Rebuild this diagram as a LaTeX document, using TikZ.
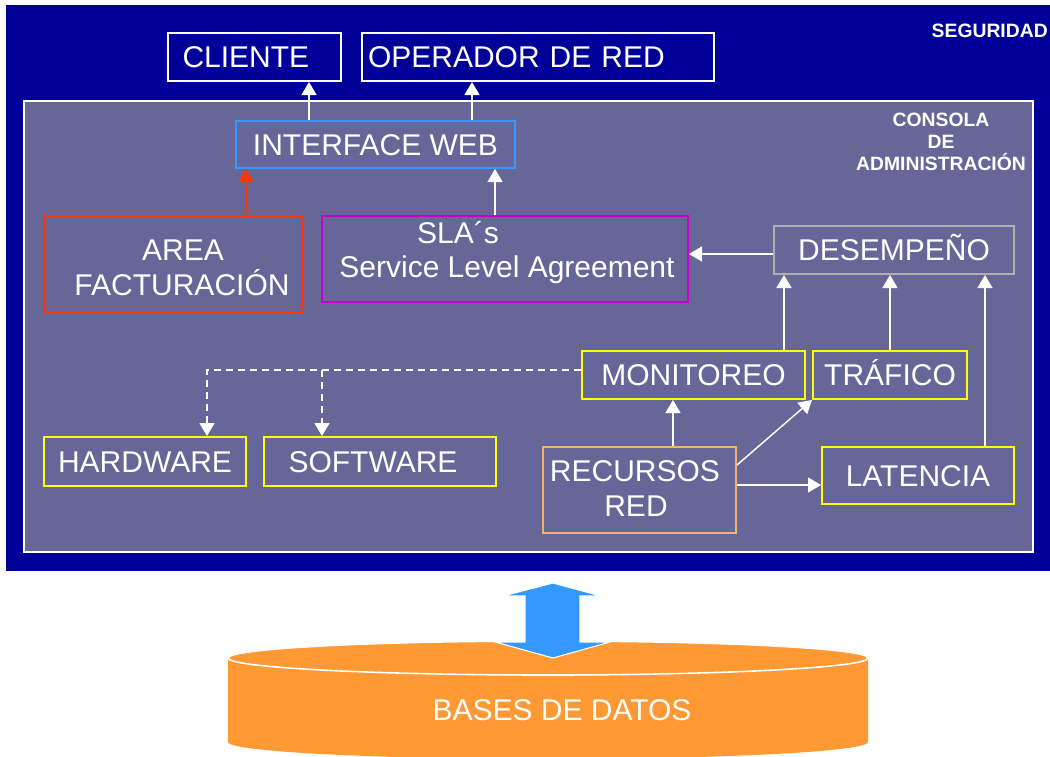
\documentclass[tikz,border=0pt]{standalone}
\usepackage{fontspec}
\setmainfont{Liberation Sans}
\usetikzlibrary{arrows.meta,calc}

\definecolor{segblue}{HTML}{000099}
\definecolor{consola}{HTML}{666699}
\definecolor{webblue}{HTML}{3399FF}
\definecolor{factred}{HTML}{FF3300}
\definecolor{slamag}{HTML}{CC00CC}
\definecolor{desgray}{HTML}{B0B0B0}
\definecolor{boxyellow}{HTML}{FFFF00}
\definecolor{recorange}{HTML}{F2B16E}
\definecolor{dborange}{HTML}{FF9933}

\begin{document}
\begin{tikzpicture}[x=0.75pt,y=-0.75pt,
  wh/.style 2 args={minimum width=#1*0.75pt, minimum height=#2*0.75pt},
  box/.style={rectangle, line width=1.5pt, fill=consola, text=white,
    font=\fontsize{22.5}{26}\selectfont, inner sep=0pt,
    text height=16.1pt, text depth=0pt},
  caption/.style={text=white, font=\fontsize{22.5}{26}\selectfont,
    inner sep=0pt, text height=16.1pt, text depth=0pt},
  title/.style={text=white, font=\fontsize{14.5}{16.5}\selectfont\bfseries,
    inner sep=0pt, align=center},
  link/.style={draw=white, line width=1.1pt,
    -{Triangle[length=9.75pt,width=11.25pt]}},
  dashlink/.style={link, dash pattern=on 5.25pt off 3.75pt}]

\useasboundingbox (0,0) rectangle (1050,757);

% security layer and administration console
\fill[segblue] (6,5) rectangle (1050,571);
\draw[white, line width=1.2pt, fill=consola] (24,101) rectangle (1033,552);

\node[title, anchor=east] (seg) at (1048,31) {SEGURIDAD};
\node[title] (cons) at (941,142) {CONSOLA\\DE\\ADMINISTRACIÓN};

% boxes
\node[box, draw=white, fill=segblue, wh={173}{48}, text width=108pt, align=left] (cli) at (254.5,57) {CLIENTE};
\node[box, draw=white, fill=segblue, wh={352}{48}, text width=255pt, align=left] (op) at (538,57) {OPERADOR DE RED};
\node[box, draw=webblue, wh={279}{47}] (iw) at (375.5,144.5) {INTERFACE WEB};

\node[box, draw=factred, wh={258}{96}] (fact) at (173,264) {};
\node[caption] (fact1) at (183,250) {AREA};
\node[caption] (fact2) at (182,285) {FACTURACIÓN};

\node[box, draw=slamag, wh={366}{86}] (sla) at (505,259) {};
\node[caption] (sla1) at (458,233) {SLA´s};
\node[caption, text depth=4.5pt] (sla2) at (507,269.5) {Service Level Agreement};

\node[box, draw=desgray, wh={240}{48}] (des) at (894,250) {DESEMPEÑO};
\node[box, draw=boxyellow, wh={223}{48}] (mon) at (693.5,375) {MONITOREO};
\node[box, draw=boxyellow, wh={154}{48}] (tra) at (890,375) {TRÁFICO};
\node[box, draw=boxyellow, wh={202}{49}] (hw) at (145,461.5) {HARDWARE};
\node[box, draw=boxyellow, wh={232}{49}] (sw) at (380,461.5) {};
\node[caption] (swt) at (373,461.5) {SOFTWARE};
\node[box, draw=recorange, wh={193}{86}] (rec) at (639.5,490) {};
\node[caption] (rec1) at (635,471) {RECURSOS};
\node[caption] (rec2) at (636,506) {RED};
\node[box, draw=boxyellow, wh={192}{57}] (lat) at (918,475.5) {LATENCIA};

% connector positions
\coordinate (xa) at (309,0);
\coordinate (xb) at (472,0);
\coordinate (xc) at (246,0);
\coordinate (xd) at (495,0);
\coordinate (ye) at (0,254);
\coordinate (xf) at (784,0);
\coordinate (xg) at (985,0);
\coordinate (xh) at (673,0);
\coordinate (yi) at (0,485);
\coordinate (yj) at (0,370);
\coordinate (xk) at (207,0);
\coordinate (xl) at (322,0);

% connectors
\draw[link] (iw.north -| xa) -- (cli.south -| xa);
\draw[link] (iw.north -| xb) -- (op.south -| xb);
\draw[link, draw=factred] (fact.north -| xc) -- (iw.south -| xc);
\draw[link] (sla.north -| xd) -- (iw.south -| xd);
\draw[link] (des.west |- ye) -- (sla.east |- ye);
\draw[link] (mon.north -| xf) -- (des.south -| xf);
\draw[link] (tra.north) -- (des.south -| tra.north);
\draw[link] (lat.north -| xg) -- (des.south -| xg);
\draw[link] (rec.north -| xh) -- (mon.south -| xh);
\draw[link] ($(rec.north east)+(0,19)$) -- (tra.south west);
\draw[link] (rec.east |- yi) -- (lat.west |- yi);
\draw[dashlink] (mon.west |- yj) -| (hw.north -| xk);
\draw[dashlink] (xl |- yj) -- (sw.north -| xl);

% database cylinder
\fill[dborange] (228,658) -- (228,742)
  arc[start angle=180, end angle=360, x radius=240pt, y radius=12.75pt]
  -- (868,658) -- cycle;
\draw[white, line width=1.2pt, fill=dborange] (548,658) ellipse [x radius=240pt, y radius=12.75pt];
\node[caption] (db) at (562,710) {BASES DE DATOS};

% data exchange arrow
\filldraw[fill=webblue, draw=white, line width=0.8pt]
  (553,583) -- (601,596) -- (580,596) -- (580,642) -- (610,642)
  -- (553,658) -- (495,642) -- (525,642) -- (525,596) -- (503,596) -- cycle;

\end{tikzpicture}
\end{document}
